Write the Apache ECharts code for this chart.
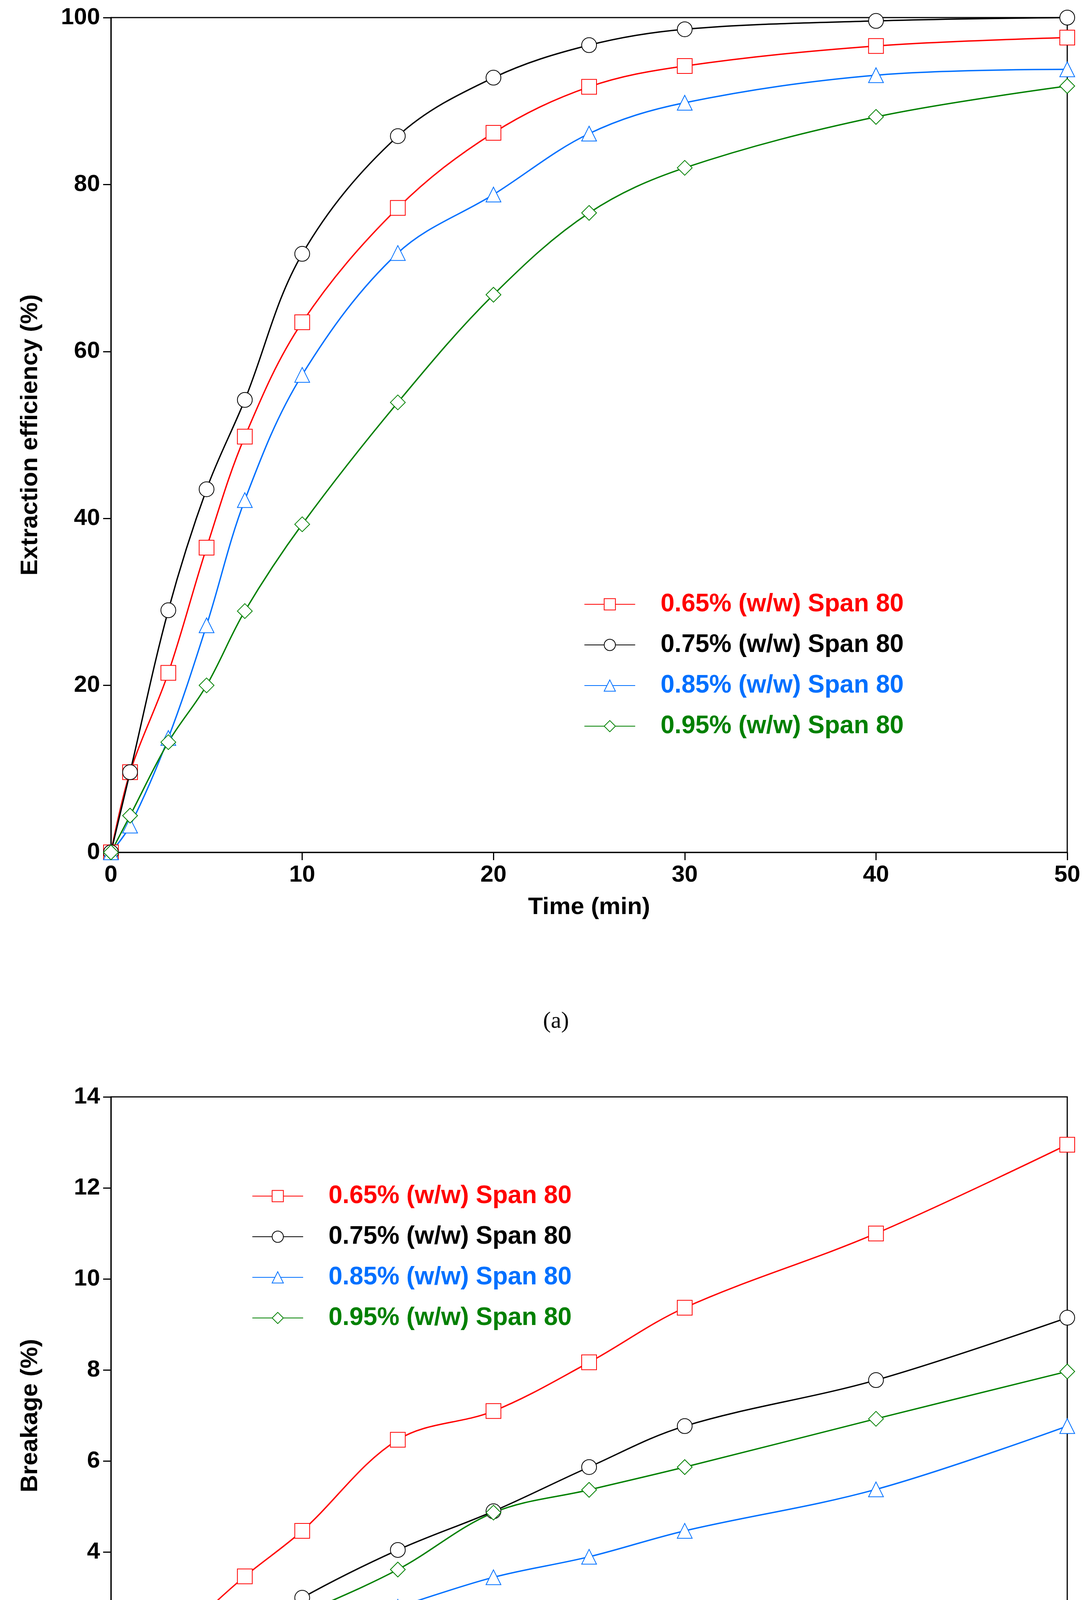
<!DOCTYPE html>
<html><head><meta charset="utf-8">
<script src="https://cdn.jsdelivr.net/npm/echarts@6/dist/echarts.min.js"></script>
<style>html,body{margin:0;padding:0;background:#fff}#c{width:2780px;height:5426px}</style>
</head><body><div id="c"></div>
<script>
var times = [0, 1, 3, 5, 7, 10, 15, 20, 25, 30, 40, 50];
var names = ['0.65% (w/w) Span 80', '0.75% (w/w) Span 80', '0.85% (w/w) Span 80', '0.95% (w/w) Span 80'];
var colors = ['#ff0000', '#000000', '#0070ff', '#008000'];
var symbols = ['emptyRect', 'emptyCircle', 'emptyTriangle', 'emptyDiamond'];
// (a) extraction efficiency
var effA = [0, 9.6, 21.5, 36.5, 49.8, 63.5, 77.2, 86.2, 91.7, 94.2, 96.6, 97.6];
var effB = [0, 9.6, 29.0, 43.5, 54.2, 71.7, 85.8, 92.8, 96.7, 98.6, 99.6, 100];
var effC = [0, 3.2, 13.7, 27.2, 42.2, 57.2, 71.8, 78.8, 86.1, 89.8, 93.1, 93.8];
var effD = [0, 4.4, 13.2, 20.0, 28.9, 39.3, 53.9, 66.8, 76.6, 82.0, 88.1, 91.8];
// (b) breakage
var brkA = [0, 0.7, 1.9, 2.72, 3.47, 4.47, 6.47, 7.1, 8.17, 9.37, 11.0, 12.95];
var brkB = [0, 0.4, 1.0, 1.62, 2.18, 3.0, 4.05, 4.9, 5.87, 6.77, 7.78, 9.15];
var brkC = [0, 0.35, 0.9, 1.3, 1.65, 2.17, 2.8, 3.45, 3.9, 4.47, 5.38, 6.77];
var brkD = [0, 0.95, 1.1, 1.62, 2.12, 2.65, 3.62, 4.87, 5.37, 5.87, 6.93, 7.97];

var effs = [effA, effB, effC, effD];
var brks = [brkA, brkB, brkC, brkD];
var font = 'Liberation Sans';

function pairs(v) { return times.map(function (t, i) { return [t, v[i]]; }); }

function xAx(idx) {
  return {
    gridIndex: idx, type: 'value', min: 0, max: 50, interval: 10,
    name: 'Time (min)', nameLocation: 'middle', nameGap: 110,
    nameTextStyle: { fontFamily: font, fontWeight: 'bold', fontSize: 62, color: '#000' },
    axisLine: { lineStyle: { color: '#000', width: 3 } },
    axisTick: { inside: false, length: 20, lineStyle: { width: 3 } },
    axisLabel: { fontFamily: font, fontWeight: 'bold', fontSize: 60, color: '#000', margin: 28 },
    splitLine: { show: false }
  };
}
function yAx(idx, max, step, name) {
  return {
    gridIndex: idx, type: 'value', min: 0, max: max, interval: step,
    name: name, nameLocation: 'middle', nameGap: 175,
    nameTextStyle: { fontFamily: font, fontWeight: 'bold', fontSize: 62, color: '#000' },
    axisLine: { lineStyle: { color: '#000', width: 3 } },
    axisTick: { inside: false, length: 20, lineStyle: { width: 3 } },
    axisLabel: { fontFamily: font, fontWeight: 'bold', fontSize: 60, color: '#000', margin: 28 },
    splitLine: { show: false }
  };
}

var series = [];
[effs, brks].forEach(function (set, g) {
  set.forEach(function (v, i) {
    series.push({
      name: names[i], type: 'line', xAxisIndex: g, yAxisIndex: g,
      data: pairs(v), smooth: 0.35, symbol: symbols[i], symbolSize: 38,
      lineStyle: { color: colors[i], width: 3.5 },
      itemStyle: { color: colors[i], borderWidth: 3 }
    });
  });
});

function legendFor(left, top) {
  return {
    left: left, top: top, orient: 'vertical', itemGap: 40, itemWidth: 130, itemHeight: 36,
    data: names.map(function (n, i) {
      return { name: n, textStyle: { color: colors[i] } };
    }),
    textStyle: { fontFamily: font, fontWeight: 'bold', fontSize: 64, padding: [0, 0, 0, 60] },
    selectedMode: false
  };
}

var chart = echarts.init(document.getElementById('c'));
chart.setOption({
  backgroundColor: '#fff',
  animation: false,
  grid: [
    { left: 284, right: 48, top: 45, height: 2137, show: true, borderColor: '#000', borderWidth: 3 },
    { left: 284, right: 48, top: 2808, height: 1632, show: true, borderColor: '#000', borderWidth: 3 }
  ],
  xAxis: [xAx(0), xAx(1)],
  yAxis: [yAx(0, 100, 20, 'Extraction efficiency (%)'), yAx(1, 14, 2, 'Breakage (%)')],
  legend: [legendFor(1490, 1510), legendFor(640, 3025)],
  series: series,
  graphic: [
    { type: 'text', left: 1390, top: 2585, style: { text: '(a)', font: '60px "Liberation Serif"', fill: '#000' } },
    { type: 'text', left: 1390, top: 5345, style: { text: '(b)', font: '60px "Liberation Serif"', fill: '#000' } }
  ]
});
</script></body></html>
